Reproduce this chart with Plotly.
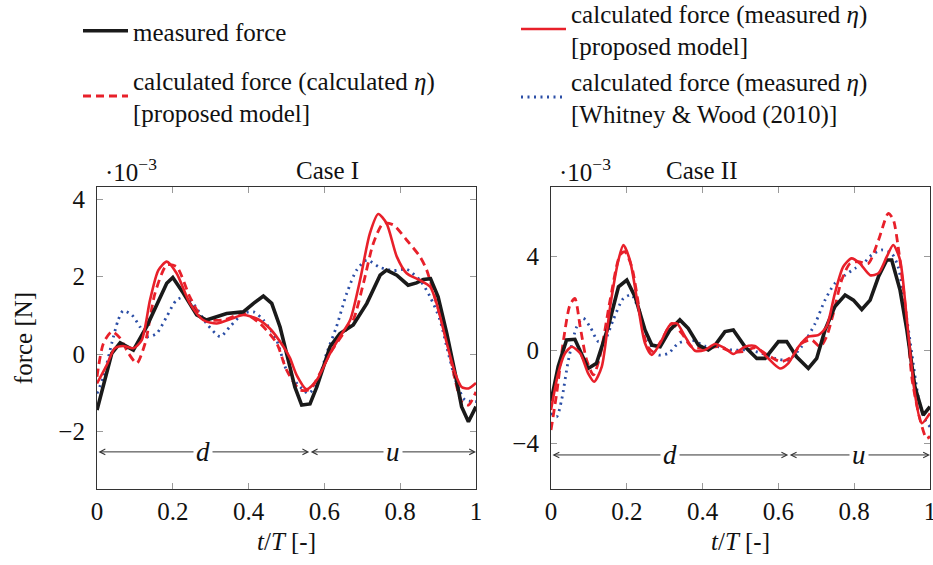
import plotly.graph_objects as go

FONT = "Liberation Serif"

# ---------------- data: Case I ----------------
c1_meas_x = [0, 0.039, 0.061, 0.096, 0.131, 0.184, 0.2, 0.228, 0.263, 0.289, 0.342, 0.386, 0.413, 0.439, 0.461, 0.483, 0.509, 0.522, 0.54, 0.562, 0.58, 0.615, 0.641, 0.676, 0.712, 0.747, 0.764, 0.791, 0.821, 0.843, 0.861, 0.88, 0.9, 0.923, 0.945, 0.962, 0.98, 1.0]
c1_meas_y = [-1.45, 0.02, 0.29, 0.1, 0.71, 1.83, 1.98, 1.57, 1.01, 0.88, 1.05, 1.09, 1.31, 1.5, 1.31, 0.7, -0.33, -0.85, -1.32, -1.29, -0.85, 0.19, 0.53, 0.75, 1.31, 2.04, 2.17, 2.04, 1.78, 1.84, 1.93, 1.95, 1.48, 0.53, -0.5, -1.36, -1.75, -1.36]

c1_prop_meas_x = [0, 0.026, 0.047, 0.069, 0.096, 0.118, 0.14, 0.162, 0.184, 0.21, 0.245, 0.28, 0.316, 0.351, 0.386, 0.421, 0.456, 0.492, 0.509, 0.527, 0.553, 0.58, 0.615, 0.641, 0.668, 0.694, 0.72, 0.742, 0.764, 0.791, 0.817, 0.852, 0.879, 0.896, 0.923, 0.945, 0.962, 0.98, 1.0]
c1_prop_meas_y = [-0.76, -0.28, 0.15, 0.21, 0.15, 0.36, 1.4, 2.17, 2.39, 2.09, 1.31, 0.88, 0.79, 0.9, 1.01, 0.92, 0.66, 0.19, -0.1, -0.55, -0.91, -0.67, 0.02, 0.45, 0.88, 1.91, 3.12, 3.62, 3.38, 2.52, 2.09, 1.91, 1.74, 1.31, 0.28, -0.5, -0.85, -0.89, -0.75]

c1_prop_calc_x = [0, 0.017, 0.039, 0.061, 0.083, 0.105, 0.127, 0.153, 0.184, 0.21, 0.245, 0.28, 0.333, 0.386, 0.43, 0.474, 0.5, 0.536, 0.562, 0.588, 0.615, 0.65, 0.676, 0.703, 0.729, 0.755, 0.782, 0.817, 0.852, 0.87, 0.896, 0.923, 0.945, 0.962, 0.98, 1.0]
c1_prop_calc_y = [-0.59, 0.28, 0.58, 0.41, 0.02, -0.24, 0.28, 1.57, 2.3, 2.26, 1.48, 0.92, 0.88, 1.05, 0.79, 0.28, -0.41, -0.93, -0.91, -0.5, 0.02, 0.53, 0.88, 1.83, 2.86, 3.38, 3.34, 2.95, 2.52, 2.17, 1.31, 0.36, -0.67, -1.23, -1.32, -0.98]

c1_ww_x = [0, 0.017, 0.039, 0.056, 0.069, 0.092, 0.113, 0.131, 0.157, 0.184, 0.21, 0.237, 0.263, 0.289, 0.325, 0.351, 0.386, 0.413, 0.439, 0.474, 0.5, 0.536, 0.558, 0.58, 0.606, 0.632, 0.659, 0.685, 0.712, 0.747, 0.782, 0.817, 0.852, 0.879, 0.905, 0.927, 0.949, 0.971, 1.0]
c1_ww_y = [-1.02, -0.59, 0.28, 0.88, 1.12, 1.01, 0.71, 0.45, 0.53, 0.97, 1.4, 1.48, 1.18, 0.79, 0.45, 0.71, 1.05, 1.09, 0.88, 0.36, -0.41, -0.85, -1.02, -0.77, 0.02, 0.71, 1.57, 2.17, 2.43, 2.24, 2.16, 2.19, 1.91, 1.48, 0.88, 0.02, -0.76, -1.19, -1.23]

# ---------------- data: Case II ----------------
c2_meas_x = [0, 0.019, 0.041, 0.063, 0.098, 0.12, 0.151, 0.178, 0.2, 0.222, 0.248, 0.266, 0.288, 0.314, 0.34, 0.362, 0.389, 0.415, 0.433, 0.459, 0.481, 0.512, 0.543, 0.565, 0.6, 0.622, 0.648, 0.679, 0.701, 0.723, 0.749, 0.776, 0.798, 0.82, 0.842, 0.864, 0.886, 0.899, 0.921, 0.939, 0.96, 0.982, 1.0]
c2_meas_y = [-2.2, -0.71, 0.43, 0.46, -0.79, -0.57, 1.0, 2.71, 3.0, 2.28, 0.86, 0.21, 0.14, 0.86, 1.29, 0.93, 0.21, 0.0, 0.21, 0.79, 0.86, 0.14, -0.36, -0.36, 0.36, 0.36, -0.29, -0.79, -0.36, 0.86, 1.86, 2.36, 2.14, 1.74, 2.14, 3.14, 3.86, 3.86, 2.57, 0.86, -1.57, -2.79, -2.43]

c2_prop_meas_x = [0, 0.019, 0.037, 0.055, 0.077, 0.098, 0.114, 0.134, 0.156, 0.178, 0.191, 0.208, 0.23, 0.248, 0.266, 0.288, 0.314, 0.332, 0.354, 0.38, 0.406, 0.433, 0.459, 0.481, 0.512, 0.538, 0.569, 0.604, 0.626, 0.653, 0.679, 0.705, 0.727, 0.749, 0.771, 0.793, 0.815, 0.842, 0.864, 0.886, 0.903, 0.921, 0.939, 0.96, 0.978, 1.0]
c2_prop_meas_y = [-2.57, -1.0, -0.14, 0.14, -0.14, -1.0, -1.36, -0.71, 1.86, 3.86, 4.5, 3.86, 1.86, 0.29, -0.21, 0.29, 1.07, 1.14, 0.57, -0.03, 0.0, 0.26, 0.07, -0.17, 0.14, 0.17, -0.29, -0.79, -0.57, 0.14, 0.57, 0.64, 1.0, 2.43, 3.57, 3.93, 3.71, 3.21, 3.29, 4.0, 4.5, 3.86, 1.29, -1.86, -3.14, -2.71]

c2_prop_calc_x = [0, 0.015, 0.033, 0.05, 0.063, 0.077, 0.094, 0.112, 0.129, 0.156, 0.182, 0.195, 0.213, 0.235, 0.253, 0.27, 0.292, 0.319, 0.345, 0.371, 0.406, 0.442, 0.477, 0.507, 0.54, 0.57, 0.606, 0.635, 0.661, 0.688, 0.71, 0.727, 0.745, 0.767, 0.789, 0.811, 0.837, 0.864, 0.89, 0.903, 0.916, 0.935, 0.953, 0.974, 0.991, 1.0]
c2_prop_calc_y = [-3.43, -1.86, 0.43, 1.93, 2.21, 1.0, -0.43, -1.07, -0.29, 2.14, 4.07, 4.21, 3.57, 1.57, 0.21, -0.07, 0.43, 1.14, 0.71, 0.14, 0.07, 0.14, -0.07, -0.07, 0.1, -0.2, -0.5, -0.29, 0.29, 0.43, 0.14, 0.57, 1.57, 3.0, 3.71, 3.79, 3.71, 4.71, 5.86, 5.6, 4.43, 1.86, -1.29, -3.0, -3.79, -3.7]

c2_ww_x = [0, 0.015, 0.028, 0.046, 0.068, 0.085, 0.103, 0.125, 0.142, 0.164, 0.191, 0.213, 0.24, 0.257, 0.283, 0.31, 0.336, 0.371, 0.406, 0.442, 0.477, 0.521, 0.556, 0.591, 0.626, 0.661, 0.697, 0.723, 0.749, 0.776, 0.802, 0.824, 0.846, 0.873, 0.899, 0.916, 0.934, 0.952, 0.969, 0.987, 1.0]
c2_ww_y = [-2.71, -2.86, -2.14, -0.43, 1.0, 1.36, 1.0, 0.36, 0.43, 1.29, 2.21, 2.36, 1.29, 0.43, -0.21, -0.14, 0.29, 0.43, 0.17, 0.14, 0.0, 0.0, -0.14, -0.36, -0.43, 0.14, 1.14, 2.14, 2.86, 3.21, 3.5, 3.71, 4.07, 4.29, 4.14, 3.57, 1.86, -0.14, -2.0, -3.0, -3.29]

# phase split (down-stroke d / up-stroke u) and arrow heights
phase_split = [0.56, 0.626]
phase_arrow_y = [-2.53, -4.5]
phase_labels = ["d", "u"]

x_ticks = [0, 0.2, 0.4, 0.6, 0.8, 1]
x_ticklabels = ["0", "0.2", "0.4", "0.6", "0.8", "1"]
y1_ticks = [-2, 0, 2, 4]
y2_ticks = [-4, 0, 4]

legend_names = [
    "measured force",
    "calculated force (measured <i>η</i>)<br>[proposed model]",
    "calculated force (calculated <i>η</i>)<br>[proposed model]",
    "calculated force (measured <i>η</i>)<br>[Whitney &amp; Wood (2010)]",
]

BLACK = "#1a1a1a"
RED = "#e8202a"
BLUE = "#2b4ea6"

styles = [
    dict(color=BLACK, width=3.6),
    dict(color=RED, width=2.6, shape="spline", smoothing=0.7),
    dict(color=RED, width=2.8, dash="8px,5px", shape="spline", smoothing=0.7),
    dict(color=BLUE, width=2.8, dash="2px,4.5px", shape="spline", smoothing=0.7),
]

fig = go.Figure()

series = [
    [(c1_meas_x, c1_meas_y), (c1_prop_meas_x, c1_prop_meas_y), (c1_prop_calc_x, c1_prop_calc_y), (c1_ww_x, c1_ww_y)],
    [(c2_meas_x, c2_meas_y), (c2_prop_meas_x, c2_prop_meas_y), (c2_prop_calc_x, c2_prop_calc_y), (c2_ww_x, c2_ww_y)],
]
legend_ids = ["legend", "legend2", "legend3", "legend4"]
draw_order = [3, 2, 0, 1]

for p, panel in enumerate(series):
    xa = "x" if p == 0 else "x2"
    ya = "y" if p == 0 else "y2"
    for k in draw_order:
        xs, ys = panel[k]
        fig.add_trace(go.Scatter(
            x=xs, y=ys, mode="lines", line=styles[k],
            name=legend_names[k], legend=legend_ids[k],
            showlegend=(p == 0), xaxis=xa, yaxis=ya, hoverinfo="skip",
        ))

axis_common = dict(
    showline=True, linecolor="#333", linewidth=1.2, mirror="ticks",
    ticks="inside", ticklen=6, tickcolor="#9a9a9a", tickwidth=1,
    showgrid=False, zeroline=False, ticklabeloverflow="allow",
    tickfont=dict(family=FONT, size=25, color="#111"),
)

fig.update_layout(
    width=933, height=565,
    margin=dict(l=0, r=0, t=0, b=0, autoexpand=False),
    paper_bgcolor="white", plot_bgcolor="white",
    font=dict(family=FONT, size=25, color="#111"),
    xaxis=dict(domain=[97/933, 476/933], range=[0, 1], tickvals=x_ticks, ticktext=x_ticklabels,
               title=dict(text="<i>t</i>/<i>T</i> [-]", font=dict(family=FONT, size=25), standoff=8),
               anchor="y", ticklabelstandoff=0, **axis_common),
    yaxis=dict(domain=[1 - 489/565, 1 - 187/565], range=[-3.49, 4.32], tickvals=y1_ticks,
               title=dict(text="force [N]", font=dict(family=FONT, size=25), standoff=18),
               anchor="x", ticklabelstandoff=6, **axis_common),
    xaxis2=dict(domain=[551/933, 930/933], range=[0, 1], tickvals=x_ticks, ticktext=x_ticklabels,
                title=dict(text="<i>t</i>/<i>T</i> [-]", font=dict(family=FONT, size=25), standoff=8),
                anchor="y2", ticklabelstandoff=0, **axis_common),
    yaxis2=dict(domain=[1 - 489/565, 1 - 187/565], range=[-5.96, 6.99], tickvals=y2_ticks,
                anchor="x2", ticklabelstandoff=6, **axis_common),
)

leg_common = dict(xanchor="left", yanchor="middle", bgcolor="rgba(0,0,0,0)",
                  font=dict(family=FONT, size=25, color="#111"), itemwidth=45,
                  borderwidth=0, tracegroupgap=0)
fig.update_layout(
    legend=dict(x=78/933, y=1 - 31/565, **leg_common),
    legend2=dict(x=516/933, y=1 - 29/565, **leg_common),
    legend3=dict(x=78/933, y=1 - 96/565, **leg_common),
    legend4=dict(x=516/933, y=1 - 97/565, **leg_common),
)

ann = []
# titles and exponent labels
ann.append(dict(text="Case I", x=294/933, y=1 - 170/565, xref="paper", yref="paper",
                yanchor="middle", showarrow=False, font=dict(family=FONT, size=25)))
ann.append(dict(text="Case II", x=740/933, y=1 - 170/565, xref="paper", yref="paper",
                yanchor="middle", showarrow=False, font=dict(family=FONT, size=25)))
for xp in [103/933, 557/933]:
    ann.append(dict(text="·10<sup>−3</sup>", x=xp, y=1 - 170/565, xref="paper", yref="paper",
                    xanchor="left", yanchor="middle", showarrow=False,
                    font=dict(family=FONT, size=25)))

# phase arrows
for p in range(2):
    xr = "x" if p == 0 else "x2"
    yr = "y" if p == 0 else "y2"
    s = phase_split[p]
    yv = phase_arrow_y[p]
    for (a, b), lab in zip([(0, s), (s, 1)], phase_labels):
        ann.append(dict(x=b, y=yv, ax=a, ay=yv, xref=xr, yref=yr, axref=xr, ayref=yr,
                        text="", showarrow=True, arrowside="end+start", arrowhead=5,
                        startarrowhead=5, arrowsize=1.1, startarrowsize=1.1,
                        arrowwidth=1, arrowcolor="#333", standoff=0, startstandoff=0))
        ann.append(dict(x=(a + b) / 2, y=yv, xref=xr, yref=yr, text="<i>" + lab + "</i>",
                        showarrow=False, bgcolor="white", borderpad=2,
                        font=dict(family=FONT, size=27)))

fig.update_layout(annotations=ann)
fig.write_html("out.html", config={"displayModeBar": False},
               post_script="document.body.style.margin='0';document.body.style.overflow='hidden';")
